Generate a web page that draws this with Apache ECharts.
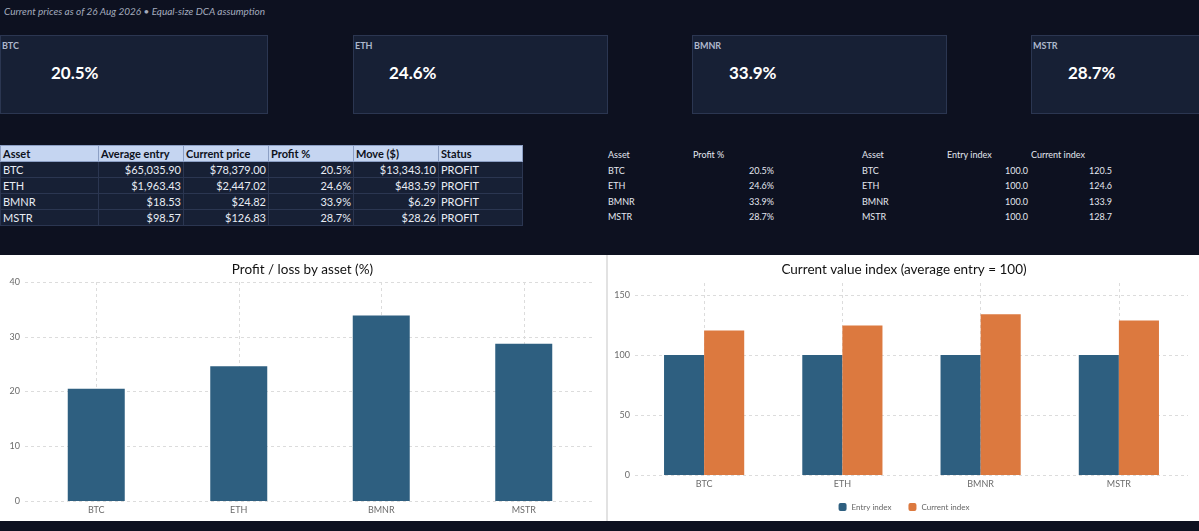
<!DOCTYPE html>
<html>
<head>
<meta charset="utf-8">
<script src="https://cdn.jsdelivr.net/npm/echarts@6/dist/echarts.min.js"></script>
<style>
  html, body { margin:0; padding:0; }
  body { width:1199px; height:531px; overflow:hidden; background:#0d1120; font-family:Lato, "Noto Sans", sans-serif; position:relative; }
  .sub { position:absolute; left:4px; top:5px; font-size:10px; font-style:italic; color:#a3abbd; }
  .card { position:absolute; top:35px; height:79px; background:#172035; border:1px solid #2b3651; box-sizing:border-box; }
  .card .lbl { position:absolute; left:1px; top:4px; font-size:9px; font-weight:bold; color:#aeb8cc; }
  .card .val { position:absolute; top:26px; font-size:17px; font-weight:bold; color:#ffffff; }
  table { border-collapse:collapse; position:absolute; table-layout:fixed; }
  #tbl td, #tbl th { height:15px; padding:0 2px; font-size:11px; white-space:nowrap; overflow:hidden; line-height:14px; }
  #tbl th { background:#c5d5f1; color:#0d1120; text-align:left; font-weight:bold; border:1px solid #8c9fc4; }
  #tbl td { background:#172035; color:#e8ecf4; border:1px solid #2b3651; text-align:right; }
  #tbl td.l { text-align:left; }
  .mini td { height:15.5px; padding:0 1px; font-size:9px; color:#e3e7ef; white-space:nowrap; line-height:15px; }
  .mini td.r { text-align:right; padding-right:2px; }
  #panel { position:absolute; left:0; top:255px; width:1199px; height:266px; background:#ffffff; }
  #sep { position:absolute; left:606px; top:255px; width:2px; height:266px; background:#e2e2e2; }
  #c1 { position:absolute; left:0; top:255px; width:605px; height:266px; }
  #c2 { position:absolute; left:609px; top:255px; width:590px; height:266px; }
</style>
</head>
<body>
<div class="sub">Current prices as of 26 Aug 2026 • Equal-size DCA assumption</div>
<div id="cards"></div>
<table id="tbl"></table>
<table id="mini1" class="mini"></table>
<table id="mini2" class="mini"></table>
<div id="panel"></div>
<div id="sep"></div>
<div id="c1"></div>
<div id="c2"></div>
<script>
// data
var assets = ['BTC', 'ETH', 'BMNR', 'MSTR'];
var avgEntry = [65035.90, 1963.43, 18.53, 98.57];
var currentPrice = [78379.00, 2447.02, 24.82, 126.83];
var profitPct = [20.5, 24.6, 33.9, 28.7];
var moveUsd = [13343.10, 483.59, 6.29, 28.26];
var statusList = ['PROFIT', 'PROFIT', 'PROFIT', 'PROFIT'];
var entryIndex = [100, 100, 100, 100];
var currentIndex = [120.5, 124.6, 133.9, 128.7];
var tableHeaders = ['Asset', 'Average entry', 'Current price', 'Profit %', 'Move ($)', 'Status'];

var blue = '#2e5f80', orange = '#dc793f';

function usd(v) {
    return '$' + v.toLocaleString('en-US', {minimumFractionDigits: 2, maximumFractionDigits: 2});
}

//KPI cards
var cardLeft = [0, 353, 692, 1031];
var cardW = [268, 255, 255, 255];
var valLeft = [50, 35, 36, 36];
var html = '';
for (var i = 0; i < assets.length; i++) {
    html += '<div class="card" style="left:' + cardLeft[i] + 'px;width:' + cardW[i] + 'px"><div class="lbl">' + assets[i] +
        '</div><div class="val" style="left:' + valLeft[i] + 'px">' + profitPct[i].toFixed(1) + '%</div></div>';
}
document.getElementById('cards').innerHTML = html;

//main table
var tbl = document.getElementById('tbl');
tbl.style.left = '0px';
tbl.style.top = '145px';
var colW = [98, 85, 85, 85, 85, 84];
var t = '<colgroup>';
colW.forEach(function (w) { t += '<col style="width:' + w + 'px">'; });
t += '</colgroup><tr>';
tableHeaders.forEach(function (h) { t += '<th>' + h + '</th>'; });
t += '</tr>';
for (var i = 0; i < assets.length; i++) {
    t += '<tr><td class="l">' + assets[i] + '</td><td>' + usd(avgEntry[i]) + '</td><td>' + usd(currentPrice[i]) +
        '</td><td>' + profitPct[i].toFixed(1) + '%</td><td>' + usd(moveUsd[i]) + '</td><td class="l">' + statusList[i] + '</td></tr>';
}
tbl.innerHTML = t;

//small tables
var m1 = document.getElementById('mini1');
m1.style.left = '607px';
m1.style.top = '147px';
var s = '<colgroup><col style="width:85px"><col style="width:84px"></colgroup>';
s += '<tr><td>Asset</td><td>Profit %</td></tr>';
for (var i = 0; i < assets.length; i++) {
    s += '<tr><td>' + assets[i] + '</td><td class="r">' + profitPct[i].toFixed(1) + '%</td></tr>';
}
m1.innerHTML = s;

var m2 = document.getElementById('mini2');
m2.style.left = '861px';
m2.style.top = '147px';
s = '<colgroup><col style="width:85px"><col style="width:84px"><col style="width:84px"></colgroup>';
s += '<tr><td>Asset</td><td>Entry index</td><td>Current index</td></tr>';
for (var i = 0; i < assets.length; i++) {
    s += '<tr><td>' + assets[i] + '</td><td class="r">' + entryIndex[i].toFixed(1) + '</td><td class="r">' + currentIndex[i].toFixed(1) + '</td></tr>';
}
m2.innerHTML = s;

var axisTxt = {color: '#6b6b6b', fontSize: 9, fontFamily: 'Lato'};
var dash = {color: '#dcdcdc', type: [3, 3], width: 1};
var titleTxt = {color: '#111', fontSize: 13.5, fontWeight: 'normal', fontFamily: 'Lato'};

//柱状图 profit
var chart1 = echarts.init(document.getElementById('c1'));
chart1.setOption({
    animation: false,
    title: {
        text: 'Profit / loss by asset (%)',
        left: 'center',
        top: 3,
        textStyle: titleTxt
    },
    grid: {left: 25, right: 10, top: 27, bottom: 20},
    xAxis: {
        type: 'category',
        data: assets,
        axisLine: {show: false},
        axisTick: {show: false},
        axisLabel: Object.assign({margin: 5}, axisTxt),
        splitLine: {show: true, alignWithLabel: true, lineStyle: dash}
    },
    yAxis: {
        type: 'value',
        min: 0,
        max: 40,
        interval: 10,
        axisLabel: Object.assign({margin: 5}, axisTxt),
        splitLine: {lineStyle: dash}
    },
    series: [{
        type: 'bar',
        data: profitPct,
        barWidth: '40%',
        itemStyle: {color: blue}
    }]
});

//柱状图 index
var chart2 = echarts.init(document.getElementById('c2'));
chart2.setOption({
    animation: false,
    title: {
        text: 'Current value index (average entry = 100)',
        left: 'center',
        top: 3,
        textStyle: titleTxt
    },
    legend: {
        bottom: 5,
        left: 'center',
        icon: 'roundRect',
        itemWidth: 8,
        itemHeight: 8,
        itemGap: 17,
        textStyle: {color: '#666', fontSize: 8, fontFamily: 'Lato'},
        data: ['Entry index', 'Current index']
    },
    grid: {left: 26, right: 11, top: 28, bottom: 46},
    xAxis: {
        type: 'category',
        data: assets,
        axisLine: {show: false},
        axisTick: {show: false},
        axisLabel: Object.assign({margin: 5}, axisTxt),
        splitLine: {show: true, alignWithLabel: true, lineStyle: dash}
    },
    yAxis: {
        type: 'value',
        min: 0,
        max: 160,
        interval: 50,
        axisLabel: Object.assign({margin: 5, showMaxLabel: false}, axisTxt),
        splitLine: {lineStyle: dash, showMaxLine: false}
    },
    series: [{
        name: 'Entry index',
        type: 'bar',
        data: entryIndex,
        barGap: 0,
        barCategoryGap: '42%',
        itemStyle: {color: blue}
    }, {
        name: 'Current index',
        type: 'bar',
        data: currentIndex,
        itemStyle: {color: orange}
    }]
});
</script>
</body>
</html>
